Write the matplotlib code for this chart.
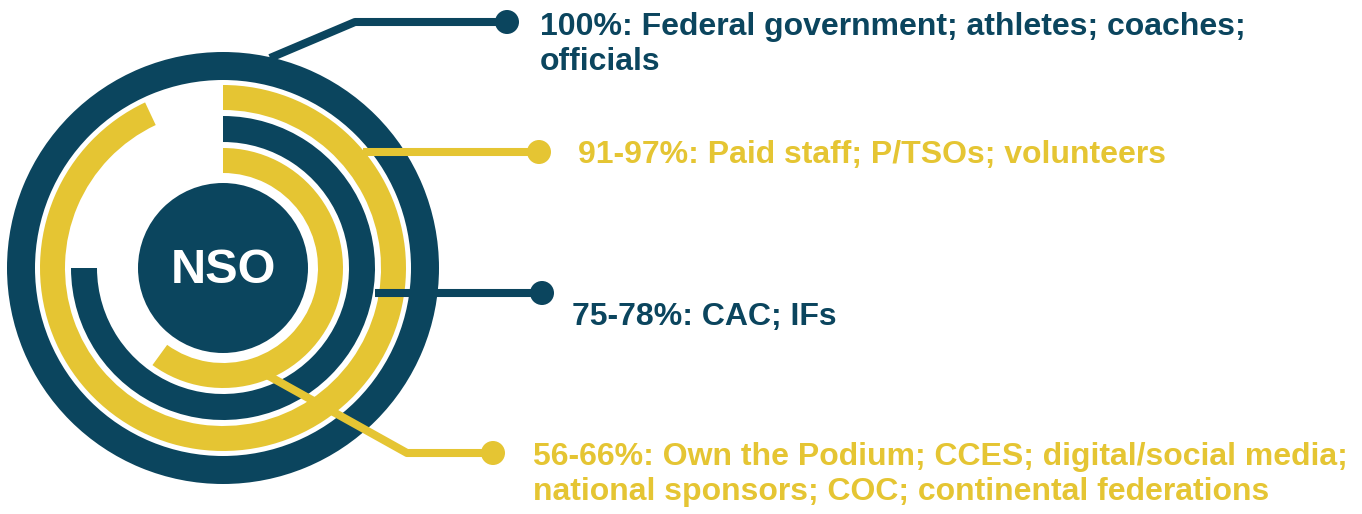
import matplotlib.pyplot as plt
from matplotlib.patches import Wedge, Circle

# share of NSOs reporting each partner group (ring length)
groups = ["100%: Federal government; athletes; coaches;\nofficials",
          "91-97%: Paid staff; P/TSOs; volunteers",
          "75-78%: CAC; IFs",
          "56-66%: Own the Podium; CCES; digital/social media;\nnational sponsors; COC; continental federations"]
shares = [1.00, 0.93, 0.75, 0.60]
centre_label = "NSO"

DARK = "#0B455E"
YELLOW = "#E5C533"
ring_colors = [DARK, YELLOW, DARK, YELLOW]

# ring geometry, pixel units
cx, cy = 223, 268
radii = [(216, 188), (183, 158), (152, 126), (120, 95)]
core_r = 85

# connector polylines and label positions (pixels)
connectors = [
    [(270, 58), (355, 22), (507, 22)],
    [(363, 152), (539, 152)],
    [(375, 293), (542, 293)],
    [(267, 375), (407, 453), (493, 453)],
]
text_xy = [(540, 35), (578, 163), (572, 325), (533, 465)]
line_gap = 35

fig = plt.figure(figsize=(13.62, 5.14), dpi=100)
ax = fig.add_axes([0, 0, 1, 1])
ax.set_xlim(0, 1362)
ax.set_ylim(514, 0)
ax.axis("off")

# y is inverted, so 270 deg is 12 o'clock and increasing theta runs clockwise
for (ro, ri), frac, col in zip(radii, shares, ring_colors):
    if frac >= 1:
        ax.add_patch(Wedge((cx, cy), ro, 0, 360, width=ro - ri, fc=col, ec="none"))
    else:
        ax.add_patch(Wedge((cx, cy), ro, 270, 270 + frac * 360, width=ro - ri,
                           fc=col, ec="none"))

ax.add_patch(Circle((cx, cy), core_r, fc=DARK, ec="none"))
ax.text(cx, 283, centre_label, color="white", fontsize=35, fontweight="bold",
        family="Liberation Sans", ha="center", va="baseline")

for pts, col, (tx, ty), lab in zip(connectors, ring_colors, text_xy, groups):
    xs = [p[0] for p in pts]
    ys = [p[1] for p in pts]
    ax.plot(xs, ys, color=col, lw=5.8, solid_capstyle="butt", zorder=3)
    ax.add_patch(Circle(pts[-1], 12, fc=col, ec="none", zorder=4))
    for i, line in enumerate(lab.split("\n")):
        ax.text(tx, ty + i * line_gap, line, color=col, fontsize=23,
                fontweight="bold", family="Liberation Sans",
                ha="left", va="baseline")

fig.savefig("out.png", dpi=100)
